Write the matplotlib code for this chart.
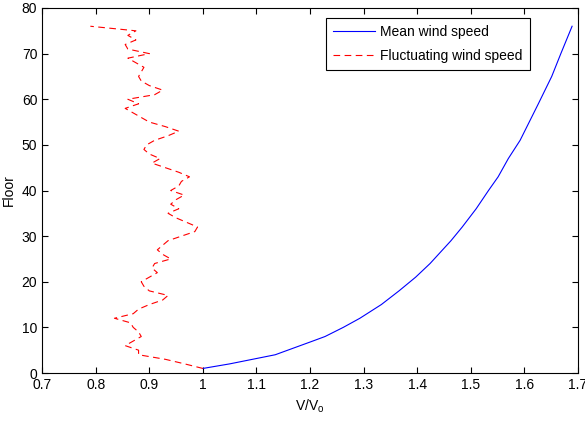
import matplotlib
matplotlib.use("Agg")
import matplotlib.pyplot as plt

plt.rcParams['font.family'] = ['Liberation Sans', 'DejaVu Sans']
plt.rcParams['mathtext.fontset'] = 'custom'
plt.rcParams['mathtext.rm'] = 'Liberation Sans'

# Mean wind speed profile (floor, V/Vo)
mean_floors = [1, 2, 4, 7, 8, 10, 12, 15, 18, 21, 24, 29, 32, 36, 40, 43, 47, 51, 55, 59, 65, 70, 76]
mean_speed = [1.0, 1.05, 1.135, 1.205, 1.228, 1.262, 1.293, 1.333, 1.366, 1.397, 1.424,
              1.463, 1.484, 1.51, 1.533, 1.551, 1.57, 1.592, 1.609, 1.626, 1.651, 1.668, 1.689]

# Fluctuating wind speed (floor 1..76)
fluct_floors = list(range(1, 77))
fluct_speed = [1.0, 0.966, 0.93, 0.88, 0.88, 0.855, 0.87, 0.885, 0.88, 0.87,
               0.865, 0.835, 0.87, 0.88, 0.90, 0.925, 0.935, 0.90, 0.89, 0.885,
               0.90, 0.915, 0.905, 0.91, 0.94, 0.925, 0.915, 0.925, 0.935, 0.96,
               0.985, 0.99, 0.97, 0.95, 0.935, 0.955, 0.94, 0.95, 0.965, 0.94,
               0.955, 0.96, 0.975, 0.955, 0.93, 0.905, 0.92, 0.90, 0.89, 0.895,
               0.91, 0.935, 0.955, 0.93, 0.90, 0.885, 0.87, 0.855, 0.88, 0.86,
               0.91, 0.925, 0.90, 0.885, 0.88, 0.885, 0.89, 0.875, 0.86, 0.90,
               0.86, 0.855, 0.875, 0.86, 0.875, 0.79]

xticks = [0.7, 0.8, 0.9, 1, 1.1, 1.2, 1.3, 1.4, 1.5, 1.6, 1.7]
xticklabels = ['0.7', '0.8', '0.9', '1', '1.1', '1.2', '1.3', '1.4', '1.5', '1.6', '1.7']
yticks = [0, 10, 20, 30, 40, 50, 60, 70, 80]

fig = plt.figure(figsize=(5.85, 4.21), dpi=100)
ax = fig.add_axes([0.072, 0.114, 0.916, 0.867])

ax.plot(mean_speed, mean_floors, color='#0000ff', linewidth=0.8, label='Mean wind speed')
ax.plot(fluct_speed, fluct_floors, color='#ff0000', linewidth=0.8,
        linestyle=(0, (6, 4)), label='Fluctuating wind speed')

ax.set_xlim(0.7, 1.7)
ax.set_ylim(0, 80)
ax.set_xticks(xticks)
ax.set_xticklabels(xticklabels)
ax.set_yticks(yticks)
ax.tick_params(direction='in', top=True, right=True, labelsize=10, length=4, width=0.8)
for s in ax.spines.values():
    s.set_linewidth(0.8)

ax.set_xlabel(r'V/V$_\mathregular{o}$', fontsize=10)
ax.set_ylabel('Floor', fontsize=10)

leg = ax.legend(loc='upper right', bbox_to_anchor=(0.91, 0.973), fontsize=10,
                frameon=True, fancybox=False, edgecolor='black', framealpha=1,
                borderaxespad=0, handlelength=3.0, handletextpad=0.4,
                borderpad=0.5, labelspacing=0.75)
leg.get_frame().set_linewidth(0.8)

fig.savefig('out.png', dpi=100)
